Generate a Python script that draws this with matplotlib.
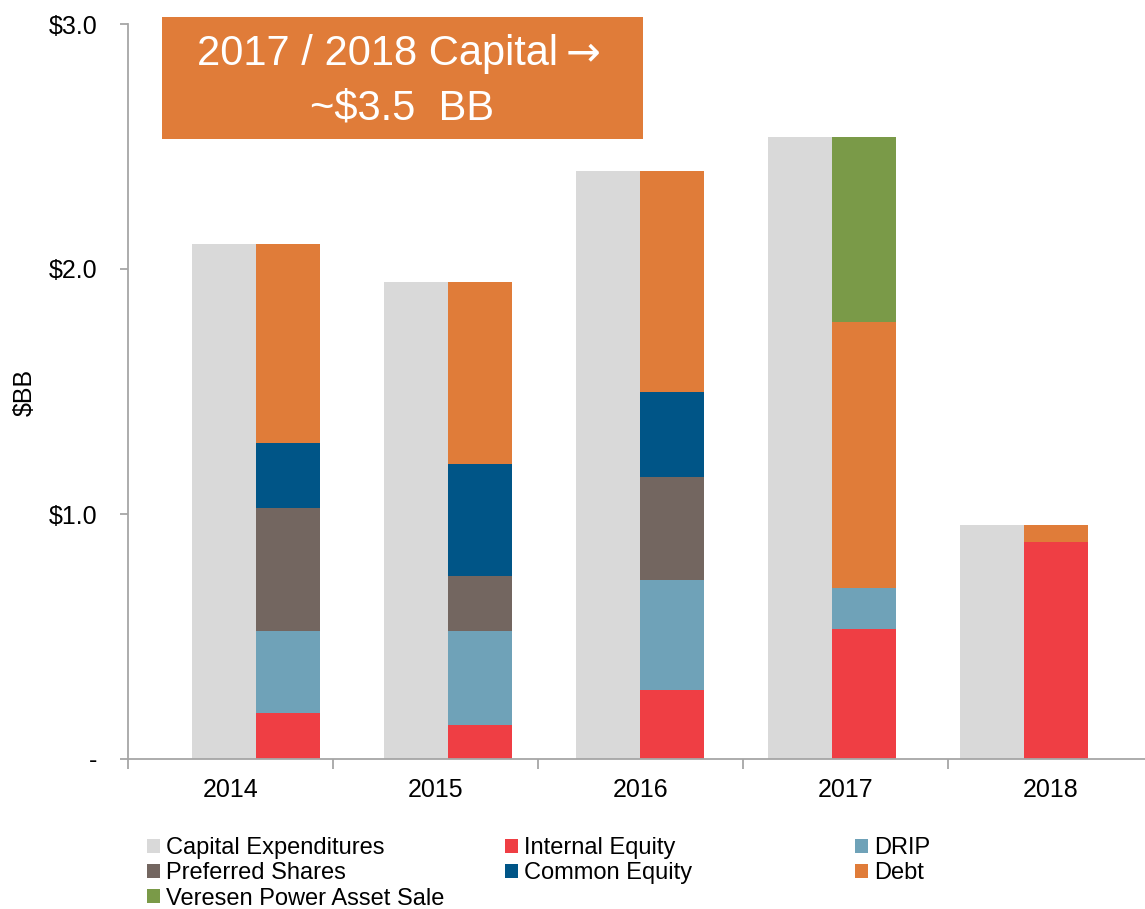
import matplotlib
matplotlib.use("Agg")
import matplotlib.pyplot as plt
from matplotlib.patches import Patch, Rectangle
import numpy as np

plt.rcParams['font.family'] = ['Liberation Sans', 'DejaVu Sans']

years = ["2014", "2015", "2016", "2017", "2018"]
capex = [2.104, 1.946, 2.398, 2.538, 0.955]
internal_equity = [0.187, 0.139, 0.280, 0.529, 0.887]
drip = [0.337, 0.383, 0.451, 0.170, 0.0]
preferred = [0.502, 0.225, 0.421, 0.0, 0.0]
common = [0.265, 0.457, 0.344, 0.0, 0.0]
debt = [0.813, 0.742, 0.902, 1.084, 0.068]
veresen = [0.0, 0.0, 0.0, 0.755, 0.0]
y_ticks = [0, 1, 2, 3]
y_labels = ["-", "$1.0", "$2.0", "$3.0"]

C_CAPEX = "#D9D9D9"
C_IE = "#EF3E44"
C_DRIP = "#6FA2B8"
C_PREF = "#736660"
C_COMMON = "#005587"
C_DEBT = "#E07C39"
C_VER = "#7A9A48"
GRID = "#A6A6A6"

W, H = 1145, 909
fig = plt.figure(figsize=(W / 100, H / 100), dpi=100)
ax_left, ax_right, ax_top, ax_bot = 128, 1145, 24, 759
ax = fig.add_axes([ax_left / W, 1 - ax_bot / H, (ax_right - ax_left) / W, (ax_bot - ax_top) / H])

# Bars axis: category pitch 192 px
ax.set_xlim(0, (ax_right - ax_left) / 192)
ax.set_ylim(0, 3)
x = np.arange(len(years))
bw = 1 / 3
ax.bar(x + 1 / 3, capex, width=bw, align='edge', color=C_CAPEX, linewidth=0)
series = [(internal_equity, C_IE), (drip, C_DRIP), (preferred, C_PREF),
          (common, C_COMMON), (debt, C_DEBT), (veresen, C_VER)]
bottom = np.zeros(len(years))
for vals, col in series:
    v = np.array(vals)
    ax.bar(x + 2 / 3, v, width=bw, bottom=bottom, align='edge', color=col, linewidth=0)
    bottom += v
ax.set_xticks([])
for s in ["top", "right", "bottom"]:
    ax.spines[s].set_visible(False)
ax.spines["left"].set_color(GRID)
ax.spines["left"].set_linewidth(1.3)
ax.set_yticks(y_ticks)
ax.set_yticklabels(y_labels, fontsize=18)
ax.tick_params(axis='y', length=6, color=GRID, width=1.3, pad=16)
ax.set_ylabel("$BB", fontsize=18, va='center')
ax.yaxis.set_label_coords((25 - ax_left) / (ax_right - ax_left), (ax_bot - 392) / (ax_bot - ax_top))

# Category axis: pitch 205 px
axl = ax.twiny()
axl.set_xlim(0, (ax_right - ax_left) / 205)
axl.xaxis.set_ticks_position('bottom')
axl.xaxis.set_label_position('bottom')
for s in ["top", "right", "left"]:
    axl.spines[s].set_visible(False)
axl.spines["bottom"].set_visible(True)
axl.spines["bottom"].set_color(GRID)
axl.spines["bottom"].set_linewidth(1.3)
axl.set_xticks(np.arange(len(years)))
axl.set_xticklabels([])
axl.set_xticks(np.arange(len(years)) + 0.5, minor=True)
axl.set_xticklabels(years, minor=True, fontsize=18)
axl.tick_params(axis='x', which='major', length=7, color=GRID, width=1.3, direction='out')
axl.tick_params(axis='x', which='minor', length=0, pad=14)

# Title box
fig.add_artist(Rectangle((162 / W, 1 - 139 / H), 481 / W, 122 / H,
                         transform=fig.transFigure, facecolor=C_DEBT, edgecolor='none', zorder=5))
fig.text(558 / W, 1 - 65 / H, "2017 / 2018 Capital", color='white', fontsize=30,
         ha='right', va='baseline', zorder=6)
fig.text(566 / W, 1 - 65 / H, "\u2192", color='white', fontsize=30, family=['DejaVu Sans'],
         ha='left', va='baseline', zorder=6)
fig.text(402 / W, 1 - 120 / H, "~$3.5  BB", color='white', fontsize=30,
         ha='center', va='baseline', zorder=6)

# Legends (three columns)
cols = [
    (147, [("Capital Expenditures", C_CAPEX), ("Preferred Shares", C_PREF), ("Veresen Power Asset Sale", C_VER)]),
    (505, [("Internal Equity", C_IE), ("Common Equity", C_COMMON)]),
    (855, [("DRIP", C_DRIP), ("Debt", C_DEBT)]),
]
for xpx, items in cols:
    handles = [Patch(facecolor=c, edgecolor='none', label=l) for l, c in items]
    fig.legend(handles=handles, loc='upper left', bbox_to_anchor=(xpx / W, 1 - 837 / H),
               frameon=False, fontsize=17, handlelength=0.55, handleheight=0.55,
               handletextpad=0.25, labelspacing=0.14, borderpad=0, borderaxespad=0)

fig.savefig("out.png", dpi=100)
